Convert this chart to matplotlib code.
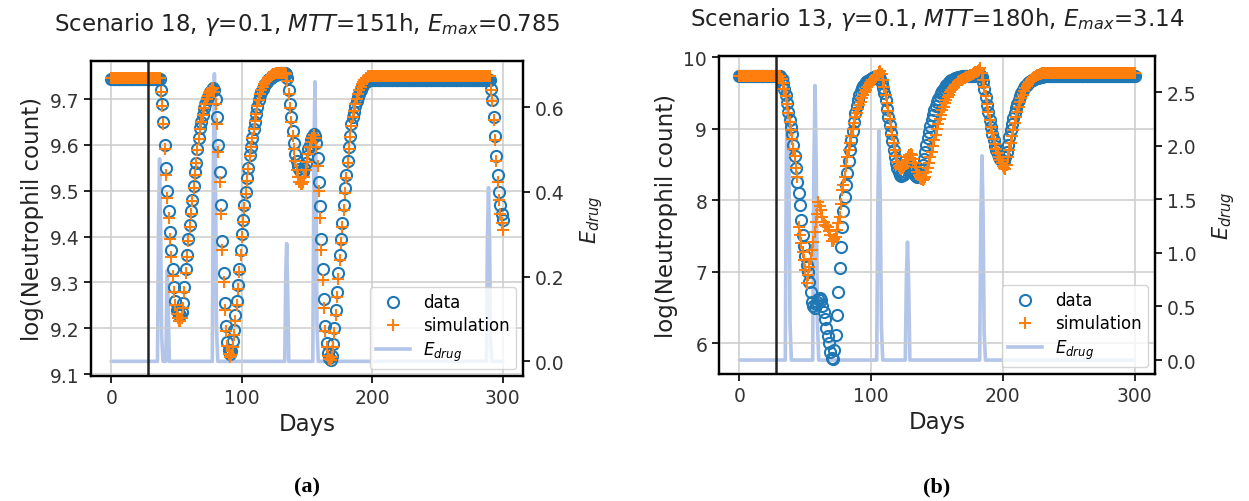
import matplotlib.pyplot as plt
import numpy as np

# ---------------- data ----------------
days = np.arange(0, 301)

# panel (a): scenario 18
data_a = ([9.744] * 38 +
          [9.72, 9.69, 9.65, 9.60, 9.55, 9.50, 9.455, 9.41, 9.37, 9.33,
           9.29, 9.26, 9.24, 9.235, 9.23, 9.228, 9.235, 9.255, 9.29, 9.33,
           9.36, 9.395, 9.425, 9.455, 9.48, 9.51, 9.54, 9.56, 9.59, 9.615,
           9.636, 9.65, 9.665, 9.68, 9.69, 9.70, 9.705, 9.71, 9.715, 9.72,
           9.725, 9.72, 9.70, 9.66, 9.60, 9.54, 9.47, 9.39, 9.32, 9.255,
           9.205, 9.17, 9.152, 9.144, 9.15, 9.173, 9.197, 9.228, 9.26, 9.294,
           9.33, 9.37, 9.406, 9.437, 9.468, 9.497, 9.527, 9.55, 9.578, 9.596,
           9.614, 9.634, 9.65, 9.667, 9.683, 9.698, 9.708, 9.716, 9.723, 9.728,
           9.733, 9.737, 9.741, 9.744, 9.746, 9.748, 9.75, 9.752, 9.753, 9.754,
           9.755, 9.756, 9.756, 9.757, 9.757, 9.756, 9.754, 9.745, 9.72, 9.69,
           9.66, 9.63, 9.605, 9.58, 9.565, 9.555, 9.548, 9.542, 9.54, 9.542,
           9.55, 9.56, 9.575, 9.59, 9.60, 9.61, 9.618, 9.624, 9.62, 9.605,
           9.572, 9.52, 9.467, 9.394, 9.33, 9.264, 9.205, 9.168, 9.146, 9.135,
           9.13, 9.14, 9.165, 9.20, 9.24, 9.28, 9.32, 9.36, 9.395, 9.43,
           9.47, 9.505, 9.534, 9.565, 9.595, 9.62, 9.645, 9.66, 9.672, 9.685,
           9.695, 9.704, 9.712, 9.72, 9.726, 9.731, 9.735, 9.738, 9.74] +
          [9.741] * 94 +
          [9.723, 9.698, 9.66, 9.62, 9.575, 9.534, 9.497, 9.468, 9.45, 9.436])

sim_a = ([9.745] * 38 +
         [9.715, 9.685, 9.645, 9.59, 9.535, 9.485, 9.44, 9.395, 9.355, 9.315,
          9.28, 9.25, 9.232, 9.222, 9.217, 9.215, 9.222, 9.245, 9.28, 9.32,
          9.355, 9.39, 9.42, 9.45, 9.478, 9.505, 9.535, 9.56, 9.588, 9.612,
          9.634, 9.65, 9.665, 9.68, 9.69, 9.70, 9.707, 9.713, 9.718, 9.722,
          9.724, 9.715, 9.69, 9.645, 9.585, 9.52, 9.45, 9.37, 9.30, 9.24,
          9.195, 9.162, 9.145, 9.138, 9.142, 9.16, 9.185, 9.215, 9.25, 9.285,
          9.322, 9.36, 9.40, 9.432, 9.462, 9.492, 9.522, 9.548, 9.575, 9.595,
          9.614, 9.634, 9.652, 9.668, 9.684, 9.699, 9.71, 9.719, 9.726, 9.732,
          9.737, 9.741, 9.745, 9.748, 9.75, 9.752, 9.754, 9.755, 9.756, 9.757,
          9.757, 9.757, 9.757, 9.757, 9.757, 9.757, 9.755, 9.74, 9.71, 9.68,
          9.65, 9.62, 9.59, 9.565, 9.545, 9.53, 9.52, 9.515, 9.515, 9.52,
          9.53, 9.545, 9.562, 9.58, 9.595, 9.607, 9.616, 9.622, 9.615, 9.595,
          9.555, 9.50, 9.44, 9.37, 9.305, 9.245, 9.195, 9.16, 9.14, 9.132,
          9.13, 9.138, 9.16, 9.19, 9.228, 9.268, 9.308, 9.348, 9.385, 9.42,
          9.458, 9.495, 9.527, 9.56, 9.59, 9.617, 9.642, 9.66, 9.675, 9.689,
          9.70, 9.71, 9.719, 9.727, 9.733, 9.738, 9.742, 9.745, 9.747] +
         [9.75] * 94 +
         [9.72, 9.695, 9.655, 9.61, 9.565, 9.52, 9.48, 9.45, 9.43, 9.414])

drug_t_a = [0, 35.4, 36.2, 37.0, 37.8, 38.6, 39.6,
            41.8, 42.5, 43.0, 43.6, 44.5,
            77.4, 78.2, 79.0, 79.8, 80.6, 81.6,
            132.9, 133.7, 134.4, 135.1, 136.0,
            154.4, 155.2, 156.0, 156.8, 157.6, 158.6,
            287.4, 288.2, 289.0, 289.8, 290.6, 291.6, 300]
drug_e_a = [0, 0, 0.32, 0.478, 0.32, 0.06, 0,
            0, 0.16, 0.215, 0.13, 0,
            0, 0.47, 0.679, 0.47, 0.08, 0,
            0, 0.21, 0.278, 0.17, 0,
            0, 0.46, 0.66, 0.46, 0.08, 0,
            0, 0.29, 0.41, 0.29, 0.05, 0, 0]

# panel (b): scenario 13
data_b = ([9.74] * 32 +
          [9.70, 9.63, 9.56, 9.47, 9.36, 9.24, 9.13, 9.02, 8.93, 8.77,
           8.62, 8.45, 8.26, 8.10, 7.93, 7.72, 7.52, 7.36, 7.22, 7.10,
           7.00, 6.86, 6.72, 6.58, 6.52, 6.50, 6.55, 6.58, 6.62, 6.64,
           6.60, 6.52, 6.44, 6.34, 6.22, 6.10, 6.00, 5.88, 5.80, 5.78,
           5.90, 6.12, 6.40, 6.72, 7.05, 7.35, 7.62, 7.85, 8.05, 8.22,
           8.38, 8.55, 8.70, 8.84, 8.97, 9.10, 9.22, 9.32, 9.41, 9.48,
           9.53, 9.57, 9.60, 9.63, 9.65, 9.665, 9.68, 9.69, 9.70, 9.71,
           9.72, 9.73, 9.735, 9.74, 9.735, 9.70, 9.64, 9.57, 9.50, 9.40,
           9.28, 9.16, 9.05, 8.94, 8.83, 8.71, 8.60, 8.52, 8.45, 8.40,
           8.36, 8.34, 8.35, 8.37, 8.40, 8.44, 8.48, 8.50, 8.48, 8.44,
           8.40, 8.36, 8.34, 8.33, 8.34, 8.37, 8.42, 8.50, 8.58, 8.67,
           8.77, 8.87, 8.96, 9.04, 9.12, 9.19, 9.26, 9.32, 9.37, 9.42,
           9.46, 9.50, 9.53, 9.56, 9.59, 9.61, 9.63, 9.65, 9.665, 9.68,
           9.69, 9.70, 9.71, 9.715, 9.72, 9.725, 9.73, 9.735, 9.74, 9.745,
           9.745, 9.745, 9.745, 9.745, 9.745, 9.745, 9.745, 9.75, 9.755, 9.76,
           9.765, 9.76, 9.72, 9.66, 9.56, 9.45, 9.34, 9.23, 9.12, 9.02,
           8.93, 8.84, 8.76, 8.70, 8.65, 8.61, 8.58, 8.555, 8.54, 8.55,
           8.60, 8.68, 8.78, 8.88, 8.98, 9.07, 9.15, 9.22, 9.29, 9.35,
           9.41, 9.46, 9.50, 9.54, 9.57, 9.60, 9.62, 9.64, 9.655, 9.67,
           9.68, 9.69, 9.70, 9.707, 9.713, 9.718, 9.722, 9.726, 9.73, 9.733,
           9.736, 9.738, 9.74] +
          [9.742] * 66)

sim_b = ([9.74] * 32 +
         [9.70, 9.64, 9.56, 9.46, 9.35, 9.22, 9.10, 8.98, 8.86, 8.72,
          8.62, 8.45, 8.33, 7.62, 7.52, 7.40, 7.28, 7.16, 7.02, 6.85,
          6.95, 7.07, 7.18, 7.30, 7.42, 7.55, 7.70, 7.81, 7.98, 7.92,
          7.86, 7.76, 7.70, 7.65, 7.64, 7.63, 7.57, 7.51, 7.43, 7.43,
          7.46, 7.49, 7.58, 7.68, 7.77, 7.95, 8.14, 8.21, 8.32, 8.48,
          8.60, 8.70, 8.80, 8.90, 9.00, 9.08, 9.16, 9.22, 9.28, 9.33,
          9.38, 9.43, 9.47, 9.51, 9.55, 9.58, 9.61, 9.64, 9.66, 9.68,
          9.70, 9.72, 9.74, 9.76, 9.79, 9.81, 9.77, 9.68, 9.58, 9.47,
          9.36, 9.25, 9.14, 9.02, 8.91, 8.80, 8.70, 8.62, 8.54, 8.48,
          8.45, 8.44, 8.45, 8.48, 8.52, 8.56, 8.60, 8.63, 8.65, 8.63,
          8.58, 8.52, 8.46, 8.40, 8.35, 8.32, 8.30, 8.29, 8.30, 8.33,
          8.39, 8.45, 8.52, 8.60, 8.68, 8.76, 8.84, 8.92, 9.00, 9.07,
          9.14, 9.20, 9.26, 9.31, 9.36, 9.40, 9.44, 9.48, 9.51, 9.54,
          9.57, 9.59, 9.61, 9.63, 9.65, 9.67, 9.68, 9.69, 9.70, 9.71,
          9.72, 9.73, 9.74, 9.75, 9.76, 9.77, 9.78, 9.79, 9.80, 9.81,
          9.83, 9.85, 9.78, 9.68, 9.58, 9.46, 9.35, 9.24, 9.13, 9.03,
          8.94, 8.86, 8.79, 8.72, 8.66, 8.60, 8.56, 8.52, 8.48, 8.45,
          8.44, 8.50, 8.60, 8.70, 8.80, 8.90, 8.99, 9.08, 9.16, 9.24,
          9.31, 9.37, 9.43, 9.48, 9.53, 9.57, 9.60, 9.63, 9.66, 9.68,
          9.70, 9.715, 9.73, 9.74, 9.75, 9.76, 9.765, 9.77, 9.775] +
         [9.78] * 70)

drug_t_b = [0, 34.8, 35.6, 36.6, 37.5, 38.4, 39.4,
            55.6, 56.5, 57.4, 58.3, 59.2, 60.2,
            104.2, 105.1, 106.0, 106.9, 107.8, 108.8,
            125.9, 126.8, 127.6, 128.4, 129.4,
            182.4, 183.3, 184.2, 185.0, 185.8, 186.8, 300]
drug_e_b = [0, 0, 1.9, 2.64, 1.9, 0.35, 0,
            0, 1.8, 2.56, 1.8, 0.35, 0,
            0, 1.5, 2.14, 1.5, 0.3, 0,
            0, 0.8, 1.10, 0.75, 0,
            0, 1.35, 1.905, 1.35, 0.25, 0, 0]

start_day = 28

titles = [r'Scenario 18, $\gamma$=0.1, $MTT$=151h, $E_{max}$=0.785',
          r'Scenario 13, $\gamma$=0.1, $MTT$=180h, $E_{max}$=3.14']
panels = [(data_a, sim_a, drug_t_a, drug_e_a), (data_b, sim_b, drug_t_b, drug_e_b)]
captions = ['(a)', '(b)']

# ---------------- style ----------------
plt.rcParams['font.family'] = ['DejaVu Sans']
plt.rcParams['axes.edgecolor'] = 'black'
plt.rcParams['axes.linewidth'] = 1.6
plt.rcParams['xtick.major.width'] = 1.4
plt.rcParams['ytick.major.width'] = 1.4
plt.rcParams['xtick.major.size'] = 5
plt.rcParams['ytick.major.size'] = 5
plt.rcParams['xtick.color'] = '#222222'
plt.rcParams['ytick.color'] = '#222222'
plt.rcParams['xtick.labelcolor'] = '#333333'
plt.rcParams['ytick.labelcolor'] = '#333333'

fig = plt.figure(figsize=(12.49, 5.02), dpi=100)
rects = [[0.0729, 0.249, 0.3459, 0.6275], [0.5757, 0.253, 0.349, 0.6335]]
drug_col = '#b3c5e8'

for i, (dat, sim, dt, de) in enumerate(panels):
    ax = fig.add_axes(rects[i])
    ax2 = ax.twinx()
    ax.set_zorder(ax2.get_zorder() + 1)
    ax.patch.set_visible(False)

    ax2.plot(dt, de, color=drug_col, lw=2.6, solid_capstyle='round')
    h3, = ax.plot([], [], color=drug_col, lw=2.6, label=r'$E_{drug}$')
    h1, = ax.plot(days, dat, 'o', mfc='none', mec='#1f77b4', mew=1.5, ms=8, label='data')
    h2, = ax.plot(days, sim, '+', color='#ff7f0e', mew=1.5, ms=8, label='simulation')
    ax.axvline(start_day, color='#222222', lw=1.8)

    ax.grid(True, color='#cccccc', lw=1.1)
    ax.set_axisbelow(True)
    ax.set_xticks([0, 100, 200, 300])
    ax.set_xlim(-15.5, 315.5)
    ax.tick_params(labelsize=13.5)
    ax2.tick_params(labelsize=13.5)
    ax.set_xlabel('Days', fontsize=16.5, color='#222222')
    ax.set_ylabel('log(Neutrophil count)', fontsize=16.5, color='#222222')
    ax2.set_ylabel(r'$E_{drug}$', fontsize=15, color='#222222', labelpad=10)
    ax.set_title(titles[i], fontsize=16.5, color='#222222', pad=22)
    ax.legend(handles=[h1, h2, h3], loc='lower right', fontsize=12,
              handlelength=2.0, borderpad=0.4, labelspacing=0.3,
              handletextpad=0.8, borderaxespad=0.4)

    if i == 0:
        ax.set_yticks([9.1, 9.2, 9.3, 9.4, 9.5, 9.6, 9.7])
        ax.set_ylim(9.096, 9.783)
        ax2.set_yticks([0.0, 0.2, 0.4, 0.6])
        ax2.set_ylim(-0.0346, 0.709)
    else:
        ax.set_yticks([6, 7, 8, 9, 10])
        ax.set_ylim(5.57, 10.02)
        ax2.set_yticks([0.0, 0.5, 1.0, 1.5, 2.0, 2.5])
        ax2.set_ylim(-0.13, 2.836)

    x0 = rects[i][0] + rects[i][2] / 2
    fig.text(x0, 0.018, captions[i], ha='center', fontsize=16, fontweight='bold',
             family='Liberation Serif')

fig.savefig('out.png', dpi=100)
